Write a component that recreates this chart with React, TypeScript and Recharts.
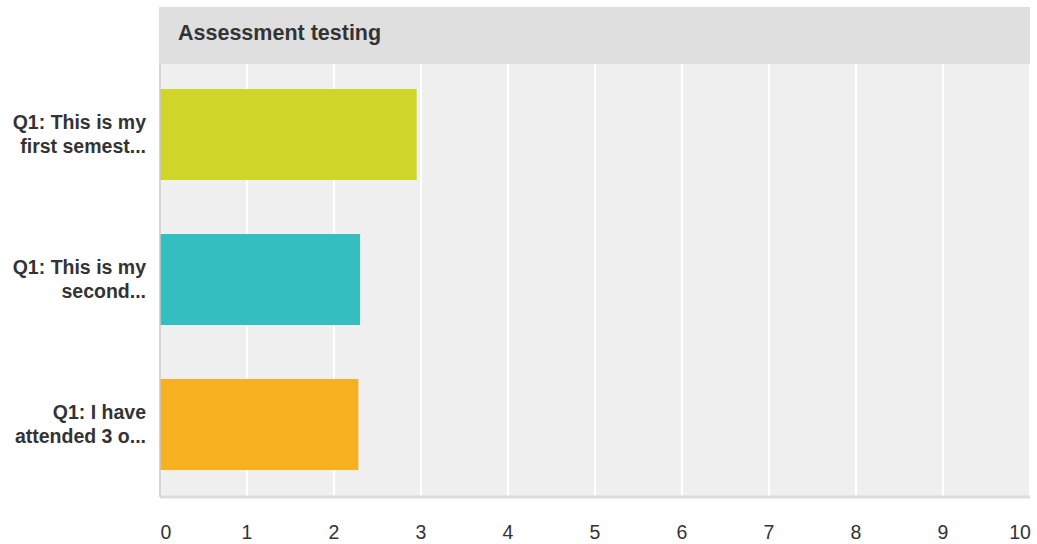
import { BarChart, Bar, XAxis, YAxis, CartesianGrid, Cell } from 'recharts';

const title = 'Assessment testing';
const categoryLines: string[][] = [
  ['Q1: This is my', 'first semest...'],
  ['Q1: This is my', 'second...'],
  ['Q1: I have', 'attended 3 o...'],
];
const categories = categoryLines.map((l) => l.join(' '));
const values = [2.95, 2.3, 2.28];
const barColors = ['#d0d52a', '#34bec0', '#f6b020'];
const xTicks = [0, 1, 2, 3, 4, 5, 6, 7, 8, 9, 10];

const data = categories.map((name, i) => ({ name, value: values[i] }));

const FONT = '"Liberation Sans", Arial, Helvetica, sans-serif';

function YTick(props: any) {
  const { y, payload } = props;
  const idx = categories.indexOf(payload.value);
  const lines = categoryLines[idx] ?? [String(payload.value)];
  return (
    <text x={146} y={y} textAnchor="end" fill="#333" fontSize={19.5} fontWeight="bold" fontFamily={FONT}>
      <tspan x={146} y={y - 5.5}>{lines[0]}</tspan>
      <tspan x={146} y={y + 18.5}>{lines[1]}</tspan>
    </text>
  );
}

function XTick(props: any) {
  const { x, y, payload } = props;
  let dx = 0;
  if (payload.value === 0) dx = 6;
  if (payload.value === 10) dx = -10;
  return (
    <text x={x + dx} y={y + 40} textAnchor="middle" fill="#333" fontSize={19.5} fontFamily={FONT}>
      {payload.value}
    </text>
  );
}

export default function App() {
  return (
    <div style={{ position: 'absolute', left: 0, top: 0, width: 1037, height: 544, background: '#fff', fontFamily: FONT }}>
      <BarChart
        width={1037}
        height={544}
        data={data}
        layout="vertical"
        margin={{ top: 62, right: 7, left: 0, bottom: 0 }}
      >
        <CartesianGrid horizontal={false} stroke="#fff" strokeWidth={2} fill="#efefef" />
        <XAxis
          type="number"
          domain={[0, 10]}
          ticks={xTicks}
          height={47}
          tickLine={false}
          tickSize={0}
          axisLine={{ stroke: '#dcdcdc', strokeWidth: 3 }}
          tick={(p: any) => <XTick {...p} />}
          interval={0}
        />
        <YAxis
          type="category"
          dataKey="name"
          width={160}
          tickLine={false}
          tickSize={0}
          axisLine={{ stroke: '#c8c8c8', strokeWidth: 1.5 }}
          tick={(p: any) => <YTick {...p} />}
          interval={0}
        />
        <Bar dataKey="value" barSize={91} isAnimationActive={false}>
          {data.map((_, i) => (
            <Cell key={i} fill={barColors[i]} />
          ))}
        </Bar>
      </BarChart>
      <div
        style={{
          position: 'absolute',
          left: 159,
          top: 7,
          width: 871,
          height: 57,
          background: '#dfdfdf',
          boxSizing: 'border-box',
          paddingLeft: 19,
          paddingBottom: 4,
          display: 'flex',
          alignItems: 'center',
          fontSize: 21.5,
          fontWeight: 'bold',
          color: '#333',
          fontFamily: FONT,
        }}
      >
        {title}
      </div>
    </div>
  );
}
